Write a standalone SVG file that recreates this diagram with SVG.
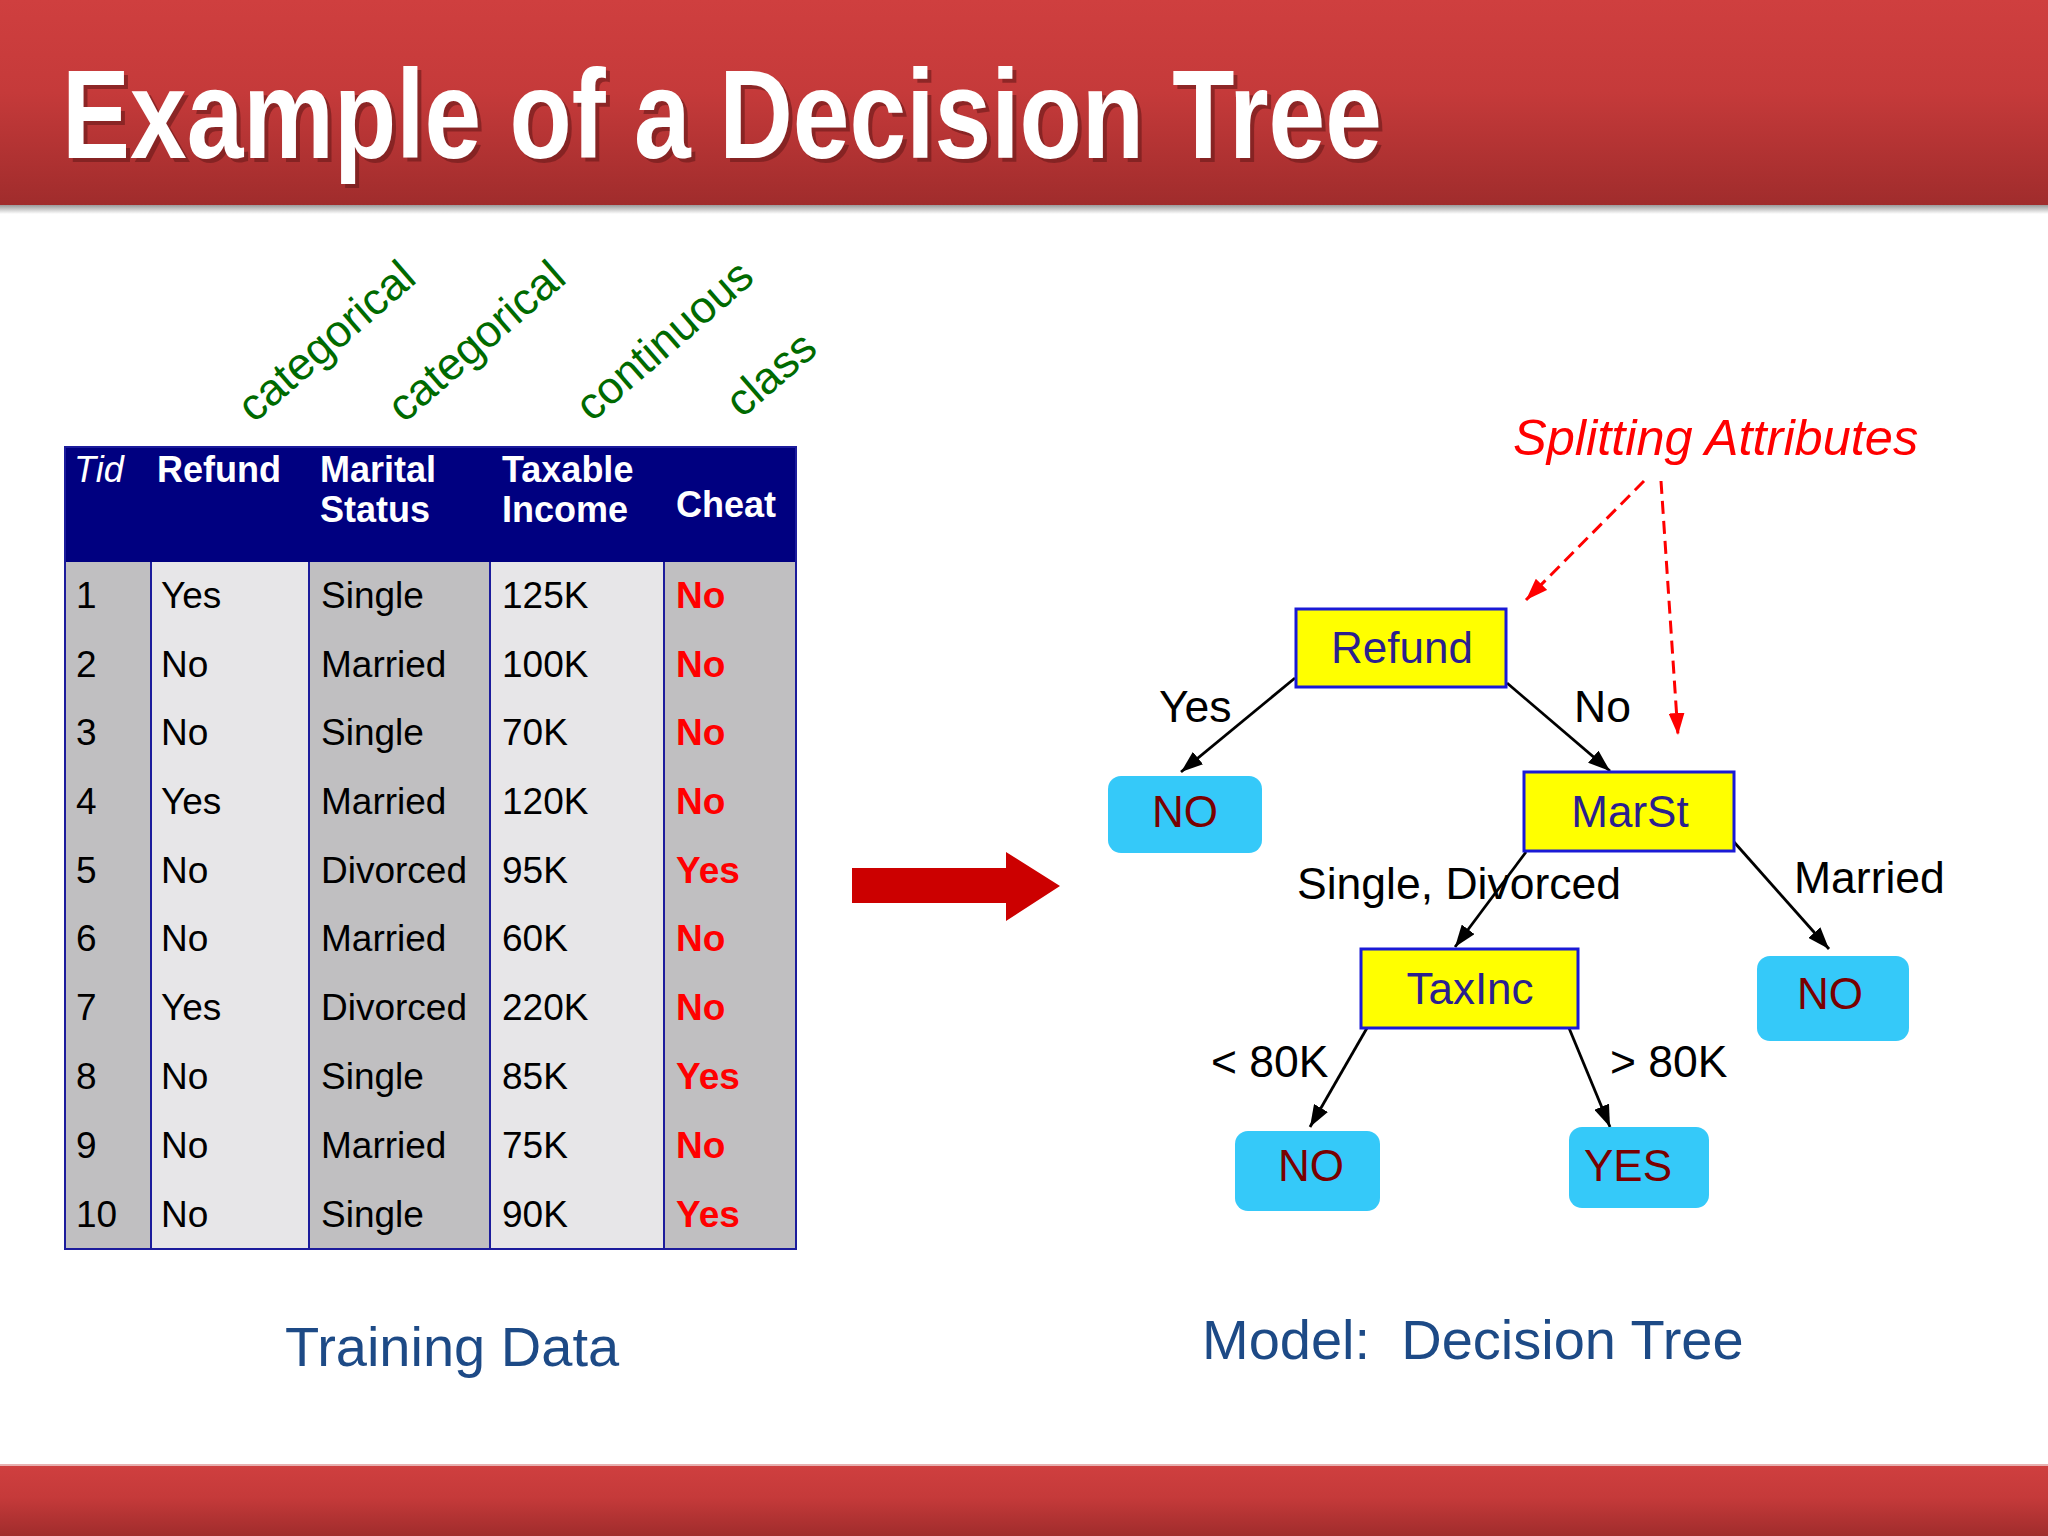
<svg xmlns="http://www.w3.org/2000/svg" width="2048" height="1536" viewBox="0 0 2048 1536">
<defs>
  <linearGradient id="band" x1="0" y1="0" x2="0" y2="1">
    <stop offset="0" stop-color="#cf3f3f"/>
    <stop offset="0.45" stop-color="#c53a3a"/>
    <stop offset="1" stop-color="#a02c2c"/>
  </linearGradient>
  <linearGradient id="shadow" x1="0" y1="0" x2="0" y2="1">
    <stop offset="0" stop-color="#9a9a9a"/>
    <stop offset="1" stop-color="#ffffff"/>
  </linearGradient>
  <marker id="ah" viewBox="0 0 22 16" refX="22" refY="8" markerWidth="22" markerHeight="16" markerUnits="userSpaceOnUse" orient="auto">
    <path d="M0,0 L22,8 L0,16 Z" fill="#000"/>
  </marker>
  <marker id="ahr" viewBox="0 0 22 16" refX="22" refY="8" markerWidth="22" markerHeight="16" markerUnits="userSpaceOnUse" orient="auto">
    <path d="M0,0 L22,8 L0,16 Z" fill="#ff0000"/>
  </marker>
</defs>
<style>
  .cell { font-family: "Liberation Sans", Arial, sans-serif; font-size: 37px; fill: #000; }
  .cls { font-family: "Liberation Sans", Arial, sans-serif; font-size: 37px; font-weight: bold; fill: #ff0000; }
  .hdr { font-family: "Liberation Sans", Arial, sans-serif; font-size: 36px; font-weight: bold; fill: #fff; }
  .typ { font-family: "Liberation Sans", Arial, sans-serif; font-size: 45px; fill: #006a00; }
  .lbl { font-family: "Liberation Sans", Arial, sans-serif; font-size: 44.5px; fill: #000; }
  .attr rect { fill: #ffff00; stroke: #1a1ad6; stroke-width: 3; }
  .attr text { font-family: "Liberation Sans", Arial, sans-serif; font-size: 44px; fill: #2b1f8f; text-anchor: middle; }
  .leaf rect { fill: #35c9f9; }
  .leaf text { font-family: "Liberation Sans", Arial, sans-serif; font-size: 44px; fill: #7a0000; text-anchor: middle; }
  .edge { stroke: #000; stroke-width: 2.8; fill: none; marker-end: url(#ah); }
  .dash { stroke: #ff0000; stroke-width: 3; fill: none; stroke-dasharray: 13 7; marker-end: url(#ahr); }
  .caption { font-family: "Liberation Sans", Arial, sans-serif; font-size: 56px; fill: #1d4a86; }
</style>

<rect x="0" y="0" width="2048" height="1536" fill="#ffffff"/>

<!-- header band -->
<g id="header">
  <rect x="0" y="205" width="2048" height="9" fill="url(#shadow)"/>
  <rect x="0" y="0" width="2048" height="205" fill="url(#band)"/>
  <text x="66" y="162" font-family="Liberation Sans, Arial, sans-serif" font-size="126" font-weight="bold" fill="#6a1a1a" opacity="0.6" textLength="1320" lengthAdjust="spacingAndGlyphs">Example of a Decision Tree</text>
  <text x="62" y="158" font-family="Liberation Sans, Arial, sans-serif" font-size="126" font-weight="bold" fill="#ffffff" textLength="1320" lengthAdjust="spacingAndGlyphs">Example of a Decision Tree</text>
</g>

<!-- footer band -->
<g id="footer">
  <rect x="0" y="1464" width="2048" height="3" fill="#e8b0b0"/>
  <rect x="0" y="1466" width="2048" height="70" fill="url(#band)"/>
</g>

<!-- attribute type labels -->
<g id="types">
  <text class="typ" transform="translate(254,424) rotate(-41)">categorical</text>
  <text class="typ" transform="translate(404,424) rotate(-41)">categorical</text>
  <text class="typ" transform="translate(592,423) rotate(-41)">continuous</text>
  <text class="typ" transform="translate(742,419) rotate(-41)">class</text>
</g>

<!-- training data table -->
<g id="table">
  <rect x="65" y="447" width="731" height="115" fill="#000080"/>
  <rect x="65" y="562" width="86" height="687" fill="#c0bfc1"/>
  <rect x="151" y="562" width="158" height="687" fill="#e7e6e8"/>
  <rect x="309" y="562" width="181" height="687" fill="#c0bfc1"/>
  <rect x="490" y="562" width="174" height="687" fill="#e7e6e8"/>
  <rect x="664" y="562" width="132" height="687" fill="#c0bfc1"/>
  <g stroke="#1c1c9c" stroke-width="2">
    <line x1="151" y1="562" x2="151" y2="1249"/>
    <line x1="309" y1="562" x2="309" y2="1249"/>
    <line x1="490" y1="562" x2="490" y2="1249"/>
    <line x1="664" y1="562" x2="664" y2="1249"/>
    <rect x="65" y="447" width="731" height="802" fill="none"/>
  </g>
  <text x="74" y="482" font-family="Liberation Sans, Arial, sans-serif" font-size="36" font-style="italic" fill="#fff">Tid</text>
  <text class="hdr" x="157" y="482">Refund</text>
  <text class="hdr" x="320" y="482">Marital</text>
  <text class="hdr" x="320" y="522">Status</text>
  <text class="hdr" x="502" y="482">Taxable</text>
  <text class="hdr" x="502" y="522">Income</text>
  <text class="hdr" x="676" y="517">Cheat</text>

  <g class="cell">
    <text x="76" y="608" class="cell">1</text><text x="161" y="608" class="cell">Yes</text><text x="321" y="608" class="cell">Single</text><text x="502" y="608" class="cell">125K</text><text x="676" y="608" class="cls">No</text>
    <text x="76" y="677" class="cell">2</text><text x="161" y="677" class="cell">No</text><text x="321" y="677" class="cell">Married</text><text x="502" y="677" class="cell">100K</text><text x="676" y="677" class="cls">No</text>
    <text x="76" y="745" class="cell">3</text><text x="161" y="745" class="cell">No</text><text x="321" y="745" class="cell">Single</text><text x="502" y="745" class="cell">70K</text><text x="676" y="745" class="cls">No</text>
    <text x="76" y="814" class="cell">4</text><text x="161" y="814" class="cell">Yes</text><text x="321" y="814" class="cell">Married</text><text x="502" y="814" class="cell">120K</text><text x="676" y="814" class="cls">No</text>
    <text x="76" y="883" class="cell">5</text><text x="161" y="883" class="cell">No</text><text x="321" y="883" class="cell">Divorced</text><text x="502" y="883" class="cell">95K</text><text x="676" y="883" class="cls">Yes</text>
    <text x="76" y="951" class="cell">6</text><text x="161" y="951" class="cell">No</text><text x="321" y="951" class="cell">Married</text><text x="502" y="951" class="cell">60K</text><text x="676" y="951" class="cls">No</text>
    <text x="76" y="1020" class="cell">7</text><text x="161" y="1020" class="cell">Yes</text><text x="321" y="1020" class="cell">Divorced</text><text x="502" y="1020" class="cell">220K</text><text x="676" y="1020" class="cls">No</text>
    <text x="76" y="1089" class="cell">8</text><text x="161" y="1089" class="cell">No</text><text x="321" y="1089" class="cell">Single</text><text x="502" y="1089" class="cell">85K</text><text x="676" y="1089" class="cls">Yes</text>
    <text x="76" y="1158" class="cell">9</text><text x="161" y="1158" class="cell">No</text><text x="321" y="1158" class="cell">Married</text><text x="502" y="1158" class="cell">75K</text><text x="676" y="1158" class="cls">No</text>
    <text x="76" y="1227" class="cell">10</text><text x="161" y="1227" class="cell">No</text><text x="321" y="1227" class="cell">Single</text><text x="502" y="1227" class="cell">90K</text><text x="676" y="1227" class="cls">Yes</text>
  </g>
</g>

<!-- big arrow -->
<g id="bigArrow">
  <path d="M852,868 L1006,868 L1006,852 L1060,886 L1006,921 L1006,903 L852,903 Z" fill="#cc0000"/>
</g>

<!-- connectors -->
<g id="connectors">
  <line class="edge" x1="1295" y1="678" x2="1181" y2="772"/>
  <line class="edge" x1="1507" y1="683" x2="1610" y2="771"/>
  <line class="edge" x1="1526" y1="852" x2="1455" y2="947"/>
  <line class="edge" x1="1734" y1="842" x2="1829" y2="949"/>
  <line class="edge" x1="1367" y1="1028" x2="1310" y2="1127"/>
  <line class="edge" x1="1569" y1="1028" x2="1610" y2="1127"/>
  <line class="dash" x1="1644" y1="481" x2="1526" y2="600"/>
  <line class="dash" x1="1661" y1="481" x2="1678" y2="735"/>
</g>

<!-- edge labels -->
<g id="edgeLabels">
  <text class="lbl" x="1159" y="722">Yes</text>
  <text class="lbl" x="1574" y="722">No</text>
  <text class="lbl" x="1297" y="899">Single, Divorced</text>
  <text class="lbl" x="1794" y="893">Married</text>
  <text class="lbl" x="1211" y="1077">&lt; 80K</text>
  <text class="lbl" x="1610" y="1077">&gt; 80K</text>
</g>

<text id="splitting" x="1513" y="455" font-family="Liberation Sans, Arial, sans-serif" font-size="50.5" font-style="italic" fill="#ff0000">Splitting Attributes</text>

<!-- nodes -->
<g id="node-refund" class="attr">
  <rect x="1296" y="609" width="210" height="78"/>
  <text x="1402" y="663">Refund</text>
</g>
<g id="node-marst" class="attr">
  <rect x="1524" y="772" width="210" height="79"/>
  <text x="1630" y="827">MarSt</text>
</g>
<g id="node-taxinc" class="attr">
  <rect x="1361" y="949" width="217" height="79"/>
  <text x="1470" y="1004">TaxInc</text>
</g>
<g id="leaf-no1" class="leaf">
  <rect x="1108" y="776" width="154" height="77" rx="13"/>
  <text x="1185" y="827">NO</text>
</g>
<g id="leaf-no2" class="leaf">
  <rect x="1757" y="956" width="152" height="85" rx="13"/>
  <text x="1830" y="1009">NO</text>
</g>
<g id="leaf-no3" class="leaf">
  <rect x="1235" y="1131" width="145" height="80" rx="13"/>
  <text x="1311" y="1181">NO</text>
</g>
<g id="leaf-yes" class="leaf">
  <rect x="1569" y="1127" width="140" height="81" rx="13"/>
  <text x="1628" y="1181">YES</text>
</g>

<!-- captions -->
<text class="caption" x="285" y="1366">Training Data</text>
<text class="caption" x="1202" y="1359" xml:space="preserve">Model:  Decision Tree</text>
</svg>
